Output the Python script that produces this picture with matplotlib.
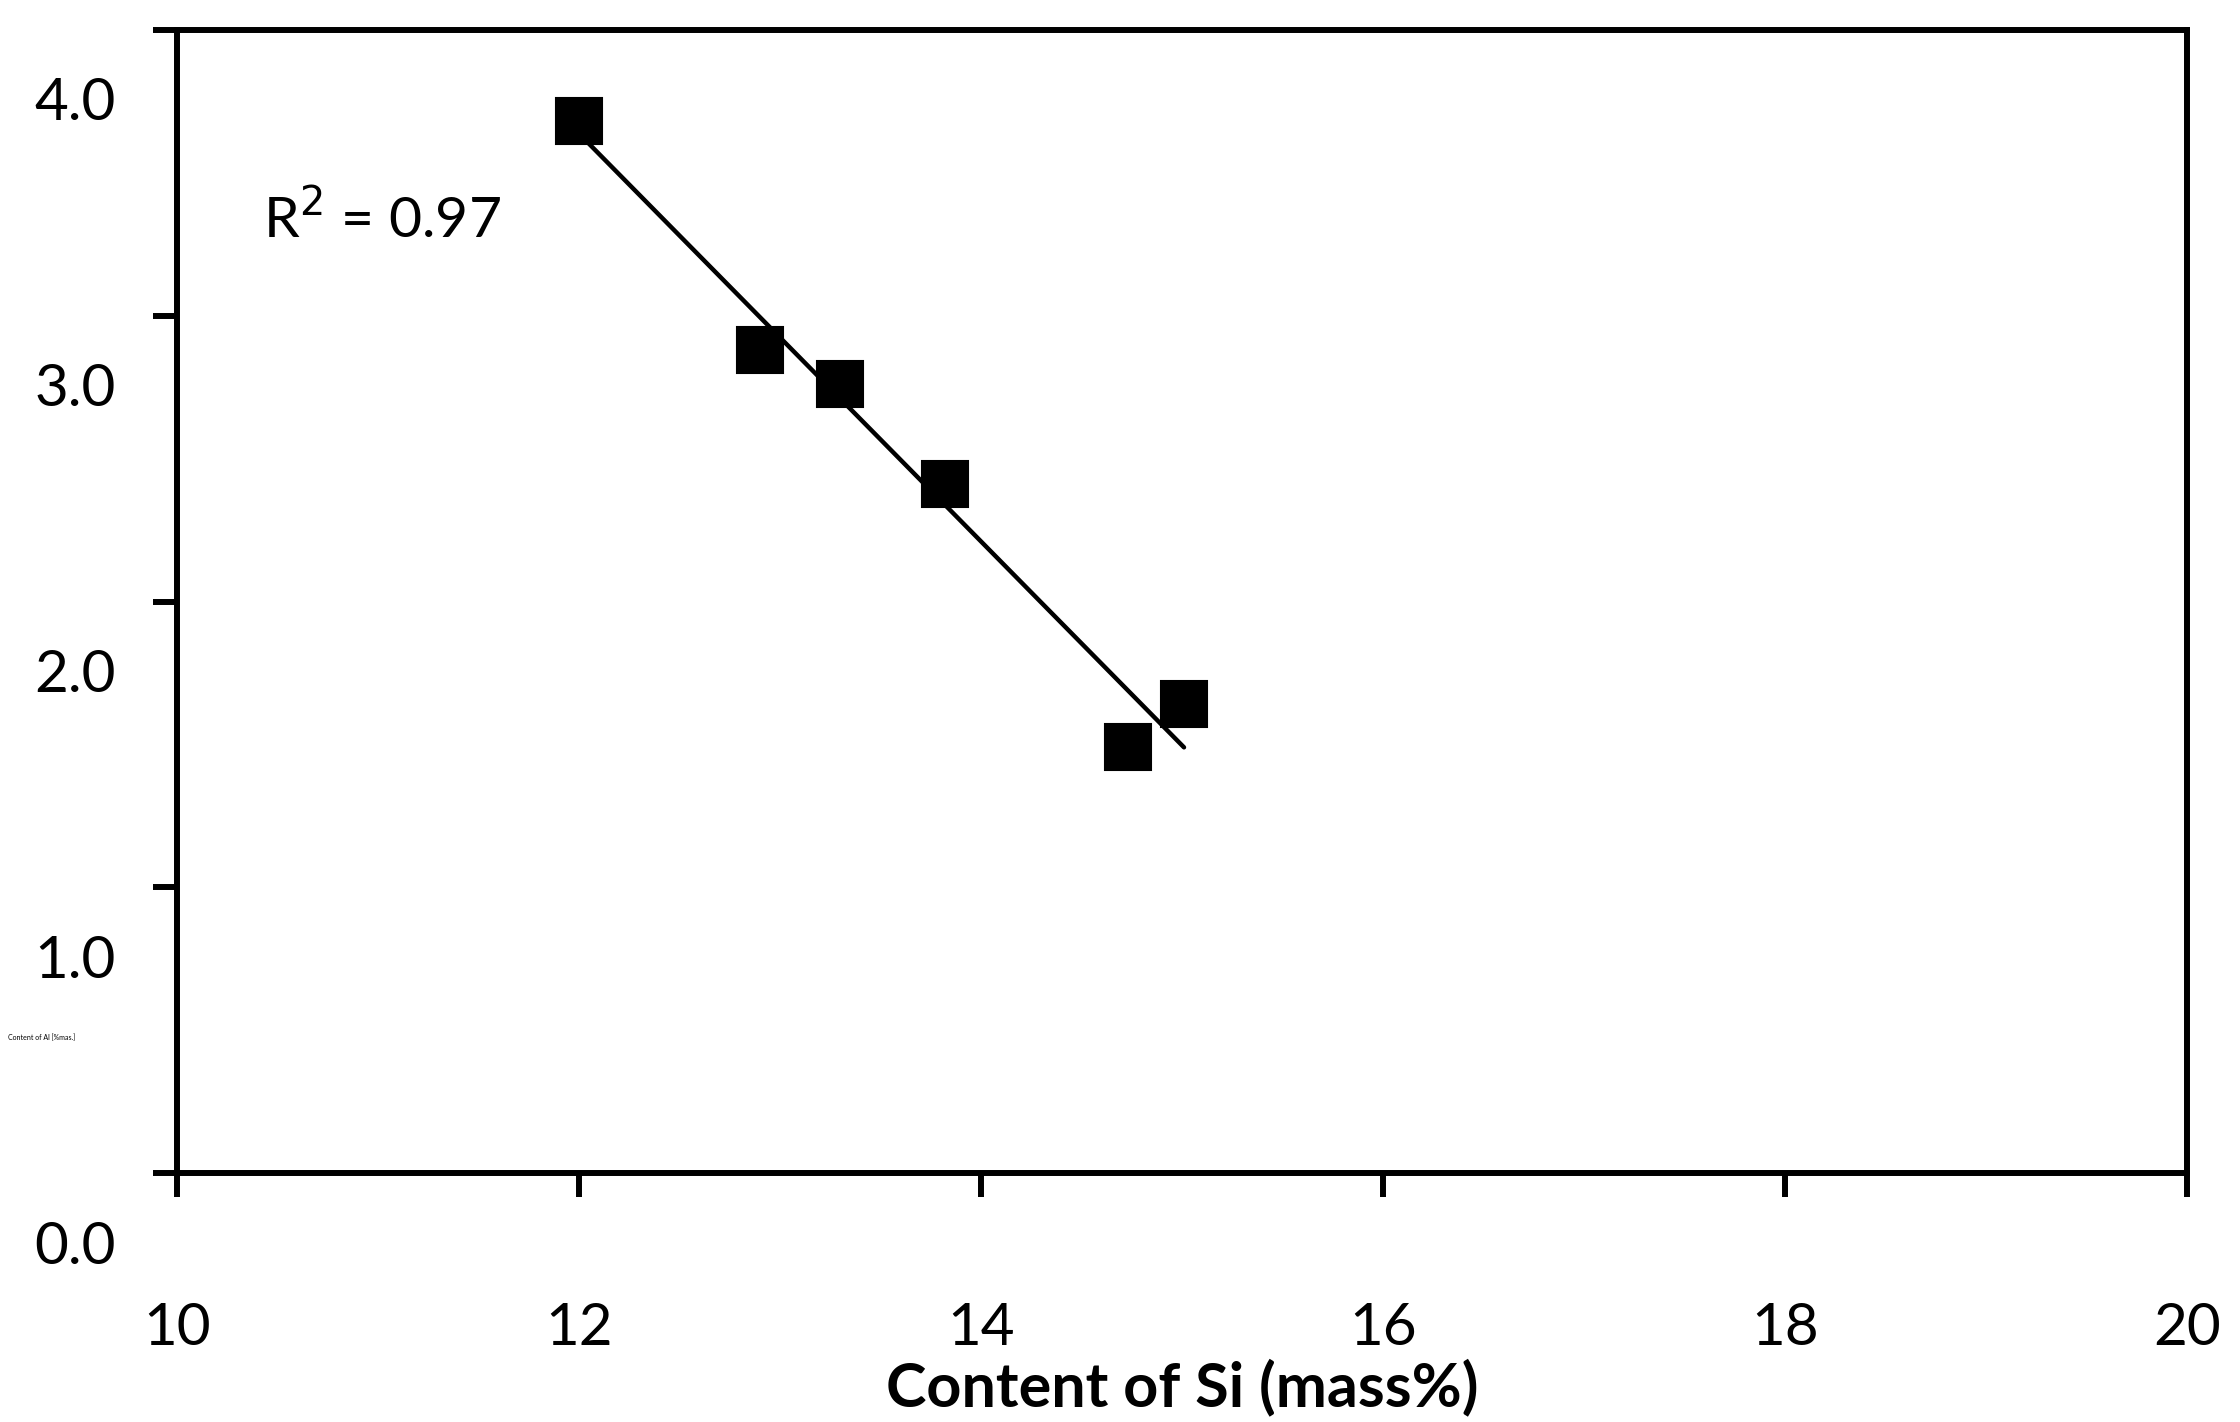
import numpy as np
import matplotlib.pyplot as plt
import matplotlib.transforms as mtransforms

# data
si = [12.0, 12.9, 13.3, 13.82, 14.73, 15.01]
al = [3.68, 2.88, 2.76, 2.41, 1.49, 1.64]
x_ticks = [10, 12, 14, 16, 18, 20]
y_ticks = [0.0, 1.0, 2.0, 3.0, 4.0]
r2_text = "R$^2$ = 0.97"

plt.rcParams['font.family'] = ['Lato', 'DejaVu Sans']

fig = plt.figure(figsize=(22.4, 14.22), dpi=100)
ax = fig.add_axes([177/2240, 1 - 1173/1422, (2187 - 177)/2240, (1173 - 30)/1422])

# linear fit drawn over the data range
k, b = np.polyfit(si, al, 1)
xf = np.array([min(si), max(si)])
ax.plot(xf, k*xf + b, color='black', lw=3.2, solid_capstyle='round', zorder=2)
ax.plot(si, al, ls='none', marker='s', ms=33, mfc='black', mec='black', mew=1.5, zorder=3)

ax.set_xlim(10, 20)
ax.set_ylim(0, 4)
ax.set_xticks(x_ticks)
ax.set_xticklabels([str(v) for v in x_ticks])
ax.set_yticks(y_ticks)
ax.set_yticklabels(["%.1f" % v for v in y_ticks])

for sp in ax.spines.values():
    sp.set_linewidth(4.3)
ax.tick_params(axis='both', direction='out', length=17, width=4.3, labelsize=42)
ax.tick_params(axis='x', pad=76)
ax.tick_params(axis='y', pad=27)

# y tick labels sit lower than their ticks in the original
off = mtransforms.ScaledTranslation(0, -0.69, fig.dpi_scale_trans)
for lab in ax.get_yticklabels():
    lab.set_transform(lab.get_transform() + off)

ax.set_xlabel("Content of Si (mass%)", fontsize=44, fontweight='bold', labelpad=2)
fig.text(8/2240, 1 - 1038/1422, "Content of Al [%mas.]", fontsize=5,
         ha='left', va='center')

ax.text(263/2240, 1 - 219/1422, r2_text, transform=fig.transFigure,
        fontsize=41, ha='left', va='center')

fig.savefig("out.png", dpi=100)
